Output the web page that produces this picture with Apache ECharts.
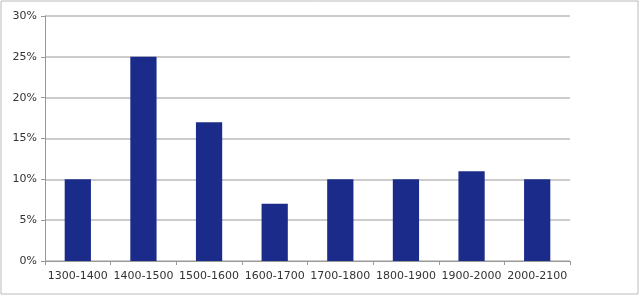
<!DOCTYPE html>
<html><head><meta charset="utf-8">
<script src="https://cdn.jsdelivr.net/npm/echarts@6/dist/echarts.min.js"></script>
<style>html,body{margin:0;padding:0;background:#fff}#c{width:640px;height:297px}</style>
</head><body><div id="c"></div>
<script>
var categories = ['1300-1400','1400-1500','1500-1600','1600-1700','1700-1800','1800-1900','1900-2000','2000-2100'];
var values = [10, 25, 17, 7, 10, 10, 11, 10];
var chart = echarts.init(document.getElementById('c'));
chart.setOption({
  animation: false,
  backgroundColor: '#fff',
  graphic: [{type:'rect', shape:{x:1,y:1,width:637,height:293}, style:{fill:'none', stroke:'#bbb', lineWidth:1}}],
  grid: {left:45, right:70, top:16, bottom:36},
  xAxis: {
    type:'category', data:categories,
    axisLine:{lineStyle:{color:'#999'}},
    axisTick:{show:true, alignWithLabel:false, length:4, lineStyle:{color:'#999'}},
    axisLabel:{color:'#333', fontSize:11, fontFamily:'DejaVu Sans', margin:10, interval:0}
  },
  yAxis: {
    type:'value', min:0, max:30, interval:5,
    axisLine:{show:true, lineStyle:{color:'#999'}},
    axisTick:{show:true, length:4, lineStyle:{color:'#999'}},
    splitLine:{lineStyle:{color:'#bbb', width:1.5}},
    axisLabel:{color:'#333', fontSize:11, fontFamily:'DejaVu Sans', margin:8, formatter:'{value}%'}
  },
  series: [{type:'bar', data:values, barWidth:'40%', itemStyle:{color:'#1b2b8a'}}]
});
</script></body></html>
